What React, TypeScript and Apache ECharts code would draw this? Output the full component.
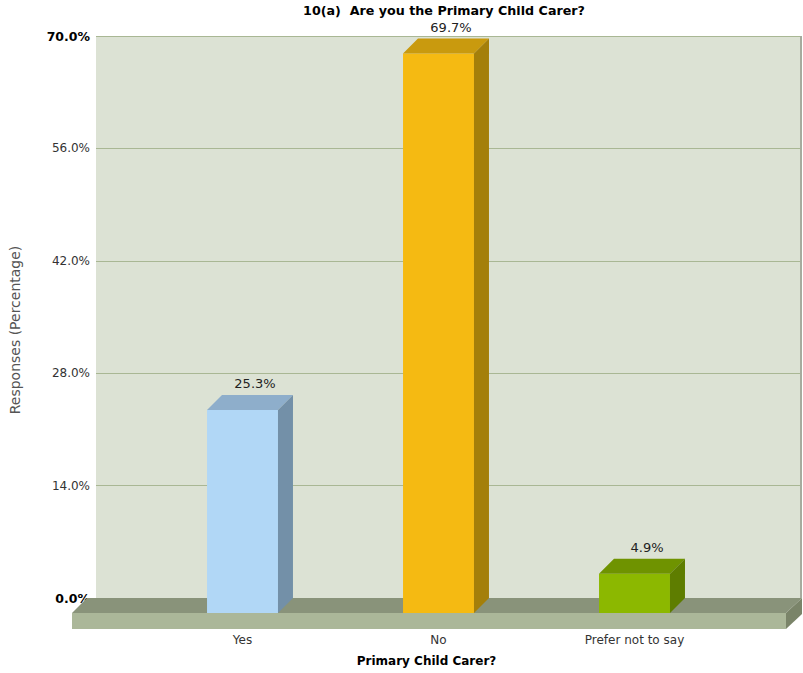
import React, { useEffect, useRef } from "react";
import * as echarts from "echarts";

const categories = ["Yes", "No", "Prefer not to say"];
const values = [25.3, 69.7, 4.9];
const frontColors = ["#B1D7F6", "#F5BA12", "#8CB800"];
const topColors = ["#8EAECB", "#C99A0E", "#6F9300"];
const sideColors = ["#7390A8", "#A47F0A", "#5E7D00"];
const yTicks = [0, 14, 28, 42, 56, 70];

const FONT = "DejaVu Sans";
const DEPTH = 15;

export default function App() {
  const ref = useRef<HTMLDivElement>(null);
  useEffect(() => {
    if (!ref.current) return;
    const chart = echarts.init(ref.current, null, { renderer: "svg" });
    const option: any = {
      animation: false,
      backgroundColor: "#ffffff",
      title: {
        text: "10(a)  Are you the Primary Child Carer?",
        left: 444,
        top: 4,
        padding: 0,
        textAlign: "center",
        textStyle: { fontFamily: FONT, fontSize: 12.7, fontWeight: "bold", color: "#000" },
      },
      grid: [
        {
          left: 87,
          right: 2,
          top: 36,
          bottom: 75,
          show: true,
          backgroundColor: "#DCE2D4",
          borderWidth: 0,
        },
        {
          left: 144.5,
          right: 70.5,
          top: 51,
          bottom: 60,
          show: false,
        },
      ],
      xAxis: [
        { type: "value", gridIndex: 0, show: false, min: 0, max: 1 },
        {
          type: "category",
          gridIndex: 1,
          data: categories,
          axisLine: { show: false },
          axisTick: { show: false },
          splitLine: { show: false },
          axisLabel: { margin: 21, fontFamily: FONT, fontSize: 12, color: "#333" },
          name: "Primary Child Carer?",
          nameLocation: "middle",
          nameGap: 42,
          nameTextStyle: {
            fontFamily: FONT,
            fontSize: 12,
            fontWeight: "bold",
            color: "#000",
            padding: [0, 24, 0, 0],
          },
        },
      ],
      yAxis: [
        {
          type: "value",
          gridIndex: 0,
          min: yTicks[0],
          max: yTicks[yTicks.length - 1],
          interval: 14,
          axisLine: { show: false },
          axisTick: { show: false },
          splitLine: { show: true, lineStyle: { color: "#A9B794", width: 1 } },
          axisLabel: {
            margin: 6,
            fontFamily: FONT,
            fontSize: 12,
            color: "#333",
            formatter: (v: number) =>
              v === yTicks[0] || v === yTicks[yTicks.length - 1]
                ? `{b|${v.toFixed(1)}%}`
                : `${v.toFixed(1)}%`,
            rich: {
              b: { fontFamily: FONT, fontSize: 12.5, fontWeight: "bold", color: "#000" },
            },
          },
          name: "Responses (Percentage)",
          nameLocation: "middle",
          nameRotate: 90,
          nameGap: 74,
          nameTextStyle: {
            fontFamily: FONT,
            fontSize: 14,
            color: "#555",
            padding: [0, 26, 0, 0],
          },
        },
        { type: "value", gridIndex: 1, show: false, min: 0, max: 70 },
      ],
      graphic: [
        {
          type: "line",
          z: 1,
          shape: { x1: 801, y1: 36, x2: 801, y2: 598 },
          style: { stroke: "#A6AB9E", lineWidth: 2 },
        },
        {
          type: "polygon",
          z: 1,
          shape: { points: [[87, 598], [802, 598], [786, 613], [72, 613]] },
          style: { fill: "#89937A" },
        },
        {
          type: "rect",
          z: 1,
          shape: { x: 72, y: 613, width: 714, height: 16 },
          style: { fill: "#ABB799" },
        },
        {
          type: "polygon",
          z: 1,
          shape: { points: [[786, 613], [802, 598], [802, 614], [786, 629]] },
          style: { fill: "#7A8469" },
        },
      ],
      series: [
        {
          type: "custom",
          xAxisIndex: 1,
          yAxisIndex: 1,
          z: 5,
          data: values.map((v, i) => [i, v]),
          renderItem: (params: any, api: any) => {
            const idx = api.value(0);
            const val = api.value(1);
            const top = api.coord([idx, val]);
            const base = api.coord([idx, 0]);
            const bw = api.size([1, 0])[0] * 0.362;
            const l = top[0] - bw / 2;
            const r = top[0] + bw / 2;
            const t = top[1];
            const b = base[1];
            const i = params.dataIndex;
            return {
              type: "group",
              children: [
                {
                  type: "rect",
                  shape: { x: l, y: t, width: bw, height: b - t },
                  style: { fill: frontColors[i] },
                },
                {
                  type: "polygon",
                  shape: {
                    points: [
                      [l, t],
                      [l + DEPTH, t - DEPTH],
                      [r + DEPTH, t - DEPTH],
                      [r, t],
                    ],
                  },
                  style: { fill: topColors[i] },
                },
                {
                  type: "polygon",
                  shape: {
                    points: [
                      [r, t],
                      [r + DEPTH, t - DEPTH],
                      [r + DEPTH, b - DEPTH],
                      [r, b],
                    ],
                  },
                  style: { fill: sideColors[i] },
                },
                {
                  type: "text",
                  x: top[0] + 12.5,
                  y: t - DEPTH - 11,
                  style: {
                    text: `${val.toFixed(1)}%`,
                    align: "center",
                    verticalAlign: "middle",
                    fontFamily: FONT,
                    fontSize: 13,
                    fill: "#222",
                  },
                },
              ],
            };
          },
        },
      ],
    };
    chart.setOption(option);
    return () => chart.dispose();
  }, []);
  return <div ref={ref} style={{ width: 803, height: 673, position: "absolute", left: 0, top: 0 }} />;
}
